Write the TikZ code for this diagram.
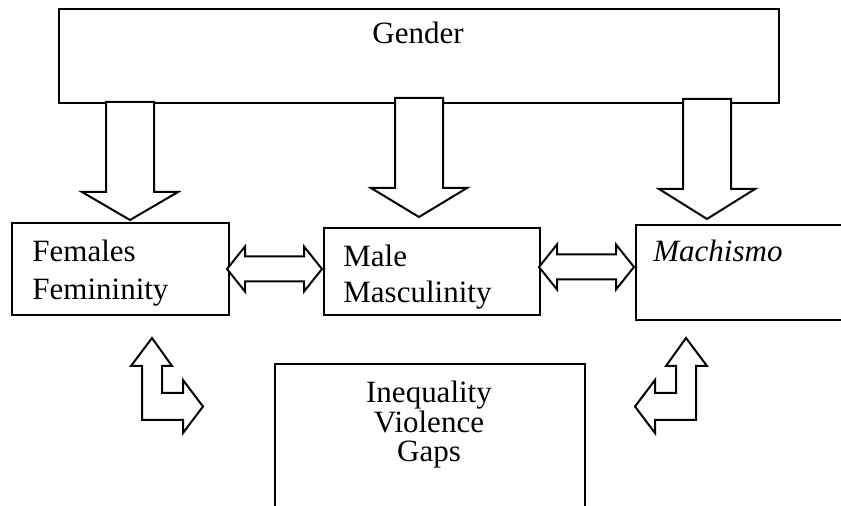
\documentclass[tikz,border=0pt]{standalone}
\usepackage{fontspec}
\setmainfont{Liberation Serif}
\usetikzlibrary{positioning}

% block arrows, drawn in pixel units
\newcommand{\dnarrow}[4]{% centre x, top, head base, tip
  \draw[fat] (#1-24,#2) -- (#1+24,#2) -- (#1+24,#3) -- (#1+48,#3) -- (#1,#4)
    -- (#1-48,#3) -- (#1-24,#3) -- cycle;}
\newcommand{\lrarrow}[3]{% left tip, right tip, centre y
  \draw[fat] (#1,#3) -- (#1+18,#3-22.5) -- (#1+18,#3-12.5) -- (#2-18,#3-12.5)
    -- (#2-18,#3-22.5) -- (#2,#3) -- (#2-18,#3+22.5) -- (#2-18,#3+12.5)
    -- (#1+18,#3+12.5) -- (#1+18,#3+22.5) -- cycle;}
\newcommand{\bentarrow}{%
  \draw[fat] (152,338) -- (172,366) -- (162,366) -- (162,393) -- (183,393)
    -- (183,380) -- (203,406.5) -- (183,433) -- (183,420) -- (142,420)
    -- (142,366) -- (131,366) -- cycle;}

\begin{document}
\begin{tikzpicture}[x=0.5pt, y=-0.5pt,
  box/.style={draw, line width=1pt, inner sep=0pt, anchor=north west},
  lbl/.style={font=\fontsize{15.5}{18}\selectfont, inner sep=0pt},
  fat/.style={draw, fill=white, line width=1pt, line join=miter},
]
\useasboundingbox (0,0) rectangle (841,506);
\clip (0,0) rectangle (841,506);

% Boxes
\node[box, minimum width=360pt, minimum height=47pt] (gender) at (58,8) {};
\node[box, minimum width=108.5pt, minimum height=46pt] (fem) at (11,222) {};
\node[box, minimum width=108pt, minimum height=43.5pt] (male) at (323,227) {};
\node[box, minimum width=125pt, minimum height=47.5pt] (mach) at (635,224) {};
\node[box, minimum width=155pt, minimum height=100pt] (ineq) at (274,363) {};

% Texts
\node[lbl, anchor=base] (gendertxt) at (418,44) {Gender};
\node[lbl, anchor=base west] (femtxt) at (32,262) {Females};
\node[lbl, anchor=base west] (femtxtb) at (32,300) {Femininity};
\node[lbl, anchor=base west] (maletxt) at (343,267) {Male};
\node[lbl, anchor=base west] (maletxtb) at (343,303) {Masculinity};
\node[lbl, anchor=base west] (machtxt) at (653,262) {\textit{Machismo}};
\node[lbl, anchor=base] (ineqtxt) at (429,403) {Inequality};
\node[lbl, anchor=base] (ineqtxtb) at (429,433) {Violence};
\node[lbl, anchor=base] (ineqtxtc) at (429,462) {Gaps};

% Arrows down from Gender
\dnarrow{130}{102}{192}{220}
\dnarrow{419}{98}{188}{217}
\dnarrow{707}{99}{189}{219}

% Two-way arrows
\lrarrow{227}{322}{269}
\lrarrow{539}{634}{267}

% Bent arrows
\bentarrow
\begin{scope}[shift={(838,0)}, xscale=-1]
  \bentarrow
\end{scope}
\end{tikzpicture}
\end{document}
